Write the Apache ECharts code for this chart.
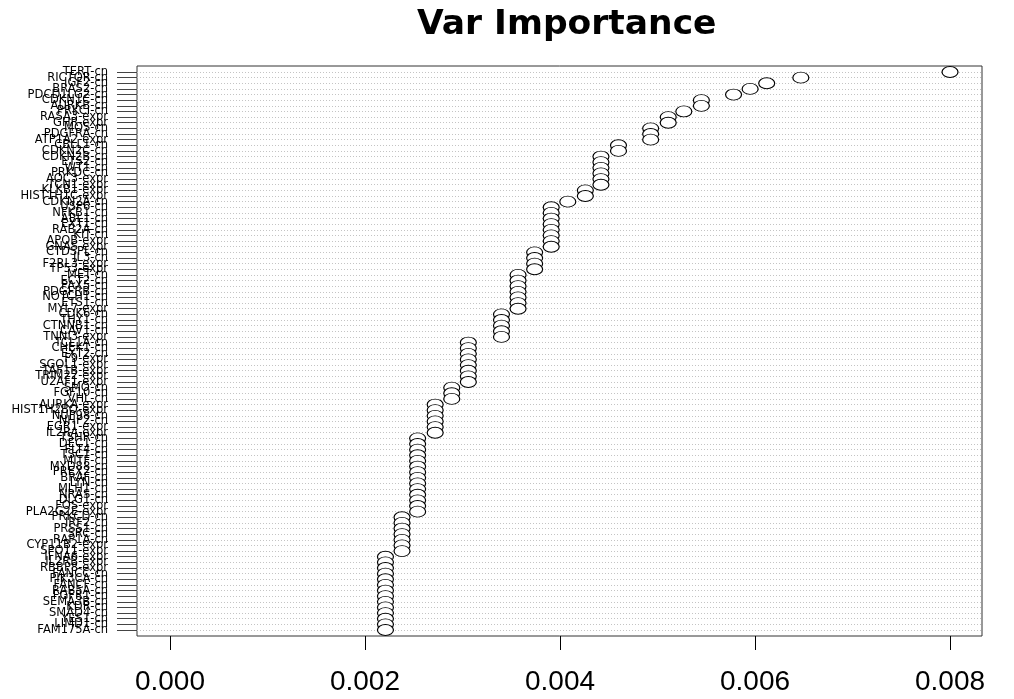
<!DOCTYPE html>
<html>
<head>
<meta charset="utf-8">
<script src="https://cdn.jsdelivr.net/npm/echarts@6/dist/echarts.min.js"></script>
<style>
html,body{margin:0;padding:0;background:#fff;}
#chart{width:1014px;height:699px;}
</style>
</head>
<body>
<div id="chart"></div>
<script>
const variables = [
  "TERT-cn","RICTOR-cn","IGF2-cn","BRAS2-cn","PDCD1LG2-cn","CDKN1C-cn","AURKB-cn","PRKCI-cn","RASA3-expr","GHR-expr",
  "MOS-cn","PDGFRA-cn","ATP1A2-expr","CBLL1-cn","CDKN2C-cn","CDKN2B-cn","ETS2-cn","WT1-cn","PRKDC-cn","AOC3-expr",
  "TCN1-expr","KLKB1-expr","HIST1H1C-expr","CDKN2A-cn","USP6-cn","NFKB1-cn","ABL1-cn","EXT1-cn","RAB2A-cn","KIT-cn",
  "APOB-expr","GNAS-expr","CTDSPL-cn","IL3-cn","F2RL3-expr","TP53-expr","MET-cn","ECT2-cn","PAX5-cn","PDGFRB-cn",
  "NOTCH1-cn","ETS1-cn","MYL7-expr","CDK6-cn","THY1-cn","CTNNB1-cn","CAV1-cn","TNNI3-expr","TCL1A-cn","CHEK1-cn",
  "EXT2-cn","F9-expr","SGOL1-expr","TAF1B-expr","TRIM22-expr","U2AF1-expr","SMO-cn","FGF10-cn","VHL-cn","AURKA-expr",
  "HIST1H2BO-expr","NUP98-cn","NHP2-cn","EGR1-expr","IL2RA-expr","TSHR-cn","DEC1-cn","FLT4-cn","TSC1-cn","MITF-cn",
  "MYD88-cn","PREX2-cn","BRAF-cn","LYN-cn","MLH1-cn","NRAS-cn","DLG1-cn","FOS-expr","PLA2G2E-expr","PRKCD-cn",
  "IRF2-cn","PRSS1-cn","SRC-cn","RAP1A-cn","CYP11B2-expr","SPO11-expr","IFNA6-expr","IL2RB-expr","RBBP8-expr","FANCC-cn",
  "PIK3CA-cn","FANCF-cn","RAB5A-cn","FGFR1-cn","SEMA3B-cn","KDR-cn","SMAD4-cn","YES1-cn","LIMD1-cn","FAM175A-cn"
];
const importance = [
  0.00800,0.00647,0.00612,0.00595,0.00578,0.00545,0.00545,0.00527,0.00511,0.00511,
  0.00493,0.00493,0.00493,0.00460,0.00460,0.00442,0.00442,0.00442,0.00442,0.00442,
  0.00442,0.00426,0.00426,0.00408,0.00391,0.00391,0.00391,0.00391,0.00391,0.00391,
  0.00391,0.00391,0.00374,0.00374,0.00374,0.00374,0.00357,0.00357,0.00357,0.00357,
  0.00357,0.00357,0.00357,0.00340,0.00340,0.00340,0.00340,0.00340,0.00306,0.00306,
  0.00306,0.00306,0.00306,0.00306,0.00306,0.00306,0.00289,0.00289,0.00289,0.00272,
  0.00272,0.00272,0.00272,0.00272,0.00272,0.00254,0.00254,0.00254,0.00254,0.00254,
  0.00254,0.00254,0.00254,0.00254,0.00254,0.00254,0.00254,0.00254,0.00254,0.00238,
  0.00238,0.00238,0.00238,0.00238,0.00238,0.00238,0.00221,0.00221,0.00221,0.00221,
  0.00221,0.00221,0.00221,0.00221,0.00221,0.00221,0.00221,0.00221,0.00221,0.00221
];
const xTicks = [0, 0.002, 0.004, 0.006, 0.008];

const rowIdx = variables.map((_, i) => i);
// padding label slots at both ends so that no real label is treated as a min/max label
const labelIdx = [-1].concat(rowIdx, [variables.length]);
const chart = echarts.init(document.getElementById('chart'), null, {renderer: 'canvas'});
chart.setOption({
  animation: false,
  backgroundColor: '#fff',
  title: {
    text: 'Var Importance',
    left: 412,
    top: 3,
    textStyle: {fontFamily: 'DejaVu Sans', fontWeight: 'bold', fontSize: 34.5, color: '#000'}
  },
  grid: {left: 137, right: 32, top: 66, bottom: 63, show: true, borderColor: '#333', borderWidth: 1, backgroundColor: 'transparent'},
  xAxis: {
    type: 'value',
    min: -0.000338,
    max: 0.008328,
    axisLine: {show: false, onZero: false},
    splitLine: {show: false},
    axisTick: {show: true, inside: false, length: 14, customValues: xTicks, lineStyle: {color: '#000', width: 1}},
    axisLabel: {
      customValues: xTicks,
      showMinLabel: true,
      showMaxLabel: true,
      margin: 32,
      fontFamily: 'Liberation Sans',
      fontSize: 28,
      color: '#000',
      formatter: v => v.toFixed(3)
    }
  },
  yAxis: {
    type: 'value',
    inverse: true,
    min: -1.065,
    max: 100.065,
    axisLine: {show: false, onZero: false},
    axisTick: {show: true, length: 20, customValues: rowIdx, lineStyle: {color: '#444', width: 1}},
    splitLine: {show: true, lineStyle: {color: '#c4c4c4', type: [1, 2], width: 1}},
    axisLabel: {
      customValues: labelIdx,
      showMinLabel: false,
      showMaxLabel: false,
      hideOverlap: false,
      margin: 29,
      fontFamily: 'DejaVu Sans',
      fontSize: 11.5,
      lineHeight: 5,
      color: '#000',
      formatter: v => variables[Math.round(v)] || ' '
    }
  },
  series: [{
    type: 'scatter',
    symbol: 'circle',
    symbolSize: [16, 11],
    itemStyle: {color: '#fff', borderColor: '#000', borderWidth: 1, opacity: 1},
    data: importance.map((v, i) => [v, i])
  }]
});
</script>
</body>
</html>
